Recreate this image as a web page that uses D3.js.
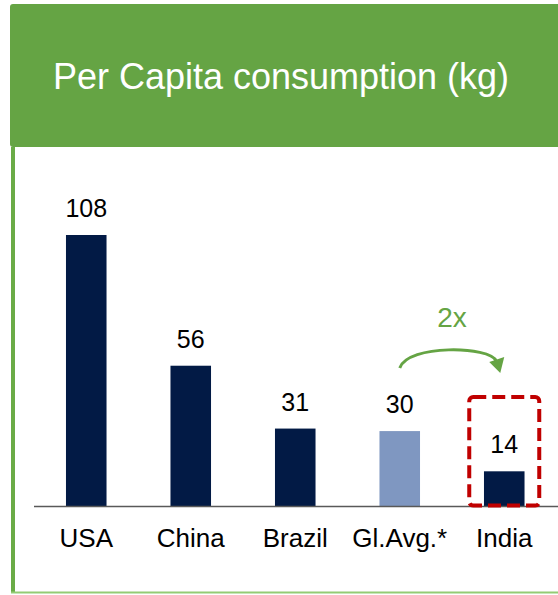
<!DOCTYPE html>
<html>
<head>
<meta charset="utf-8">
<script src="https://cdn.jsdelivr.net/npm/d3@7"></script>
<style>
  html, body { margin: 0; padding: 0; background: #fff; }
  svg { display: block; font-family: "Liberation Sans", Arial, sans-serif; }
</style>
</head>
<body>
<svg id="chart" width="558" height="595"></svg>
<script>
'use strict'

var title = "Per Capita consumption (kg)",
    countries = ["USA", "China", "Brazil", "Gl.Avg.*", "India"],
    values = [108, 56, 31, 30, 14],
    highlight = "India",
    average = "Gl.Avg.*",
    ratioLabel = "2x";

var width = 558,
    height = 595,
    baseY = 506.5;

var svg = d3.select("#chart");

// green header + panel frame
svg.append("rect")
    .attr("x", 10).attr("y", 4)
    .attr("width", 560).attr("height", 143)
    .attr("rx", 3)
    .attr("fill", "#65a444");

svg.append("rect")
    .attr("x", 11).attr("y", 147)
    .attr("width", 4).attr("height", 446)
    .attr("fill", "#6aab47");

svg.append("line")
    .attr("x1", 11).attr("x2", width)
    .attr("y1", 592.5).attr("y2", 592.5)
    .attr("stroke", "#93cc74")
    .attr("stroke-width", 2);

svg.append("text")
    .attr("x", 281).attr("y", 89)
    .attr("text-anchor", "middle")
    .attr("fill", "#fff")
    .style("font-size", "36px")
    .text(title);

var x = d3.scaleBand()
    .domain(countries)
    .range([34, 556.5])
    .paddingInner(0.612)
    .paddingOuter(0.306);

var y = d3.scaleLinear()
    .domain([0, d3.max(values)])
    .range([baseY, 235]);

var data = countries.map(function(c, i) { return {name: c, value: values[i]}; });

svg.append("g").selectAll("rect")
  .data(data)
  .enter().append("rect")
    .attr("x", function(d) { return x(d.name); })
    .attr("y", function(d) { return y(d.value); })
    .attr("width", x.bandwidth())
    .attr("height", function(d) { return baseY - y(d.value); })
    .attr("fill", function(d) { return d.name === average ? "#7f97c1" : "#021a45"; });

svg.append("g").selectAll("text")
  .data(data)
  .enter().append("text")
    .attr("x", function(d) { return x(d.name) + x.bandwidth() / 2; })
    .attr("y", function(d) { return y(d.value) - 18; })
    .attr("text-anchor", "middle")
    .attr("fill", "#000")
    .style("font-size", "25px")
    .text(function(d) { return d.value; });

// baseline
svg.append("line")
    .attr("x1", 34).attr("x2", width)
    .attr("y1", baseY).attr("y2", baseY)
    .attr("stroke", "#595959")
    .attr("stroke-width", 1.3);

svg.append("g").selectAll("text")
  .data(countries)
  .enter().append("text")
    .attr("x", function(d) { return x(d) + x.bandwidth() / 2; })
    .attr("y", 546.5)
    .attr("text-anchor", "middle")
    .attr("fill", "#000")
    .style("font-size", "26px")
    .text(function(d) { return d; });

// dashed highlight box around India
var hx = x(highlight) + x.bandwidth() / 2;
svg.append("rect")
    .attr("x", hx - 35).attr("y", 397)
    .attr("width", 70).attr("height", 108.5)
    .attr("rx", 4)
    .attr("fill", "none")
    .attr("stroke", "#c00000")
    .attr("stroke-width", 4)
    .attr("stroke-dasharray", "13,6");

// curved arrow from average to India
var ax = x(average) + x.bandwidth() / 2;
svg.append("path")
    .attr("d", "M" + ax + ",368 C" + (ax + 8) + ",344 " + (hx - 14) + ",346 " + (hx - 8) + ",361")
    .attr("fill", "none")
    .attr("stroke", "#65a444")
    .attr("stroke-width", 3);

svg.append("path")
    .attr("d", "M" + (hx - 15) + ",362 L" + hx + ",357 L" + (hx - 4) + ",373 Z")
    .attr("fill", "#65a444");

svg.append("text")
    .attr("x", (ax + hx) / 2).attr("y", 327)
    .attr("text-anchor", "middle")
    .attr("fill", "#65a444")
    .style("font-size", "28px")
    .text(ratioLabel);
</script>
</body>
</html>
